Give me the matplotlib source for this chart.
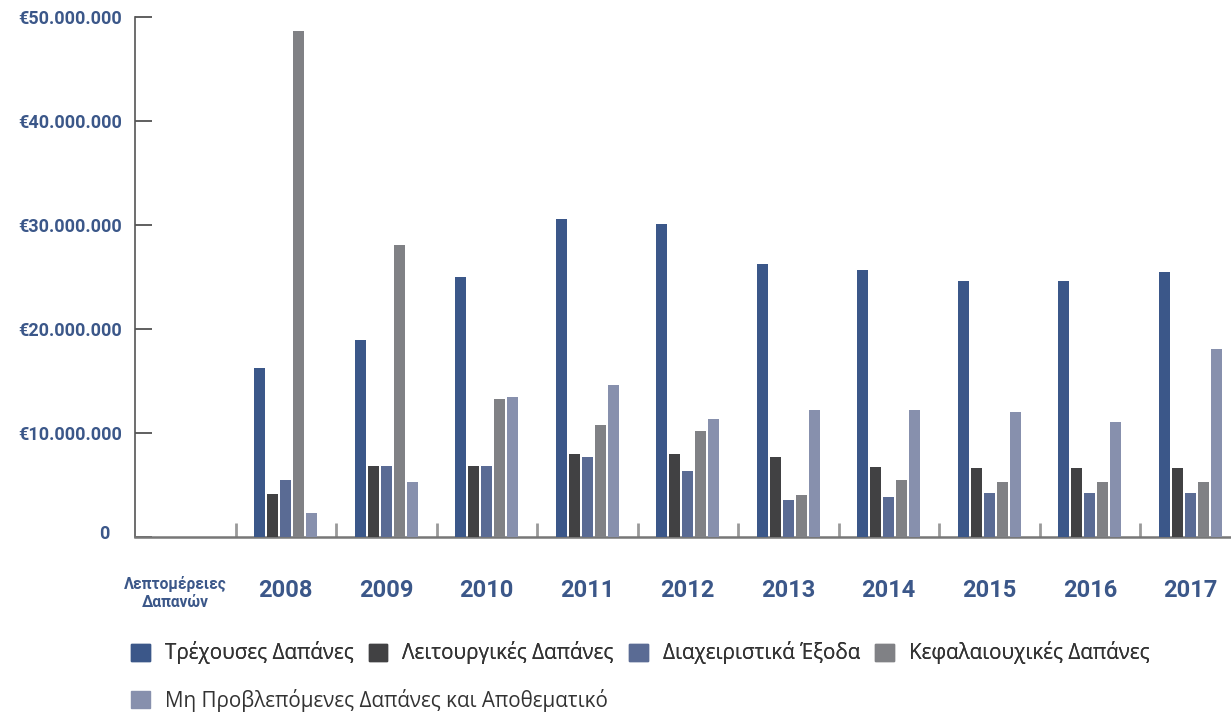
import numpy as np
import matplotlib
matplotlib.use("Agg")
import matplotlib.pyplot as plt
from matplotlib.patches import Patch
import matplotlib.transforms as mtransforms

# data (euros)
first_label = "Λεπτομέρειες\nΔαπανών"
years = ["2008", "2009", "2010", "2011", "2012", "2013", "2014", "2015", "2016", "2017"]

series_names = ["Τρέχουσες Δαπάνες", "Λειτουργικές Δαπάνες", "Διαχειριστικά Έξοδα",
                "Κεφαλαιουχικές Δαπάνες", "Μη Προβλεπόμενες Δαπάνες και Αποθεματικό"]
trexouses = [16.25e6, 18.9e6, 25.0e6, 30.6e6, 30.1e6, 26.25e6, 25.7e6, 24.6e6, 24.6e6, 25.5e6]
leitourgikes = [4.1e6, 6.8e6, 6.8e6, 8.0e6, 8.0e6, 7.7e6, 6.7e6, 6.6e6, 6.6e6, 6.6e6]
diaxeiristika = [5.5e6, 6.8e6, 6.8e6, 7.7e6, 6.3e6, 3.6e6, 3.85e6, 4.2e6, 4.2e6, 4.2e6]
kefalaiouxikes = [48.7e6, 28.1e6, 13.3e6, 10.8e6, 10.2e6, 4.0e6, 5.5e6, 5.3e6, 5.3e6, 5.3e6]
mh_provlepomenes = [2.3e6, 5.3e6, 13.5e6, 14.6e6, 11.35e6, 12.2e6, 12.2e6, 12.0e6, 11.1e6, 18.1e6]

colors = ["#3b5789", "#414143", "#5a6b94", "#808185", "#8790ad"]
blue = "#3b5789"

fig = plt.figure(figsize=(12.31, 7.15), dpi=100)
ax = fig.add_axes([135/1231, (715-537)/715, (1231-135)/1231, 520/715])

x = np.arange(1, len(years) + 1)
all_series = [trexouses, leitourgikes, diaxeiristika, kefalaiouxikes, mh_provlepomenes]
bw = 0.11
step = 0.13
for i, (vals, c) in enumerate(zip(all_series, colors)):
    ax.bar(x + (i - 2) * step, vals, width=bw, color=c, zorder=3)

ax.set_xlim(-0.5, (1231-135)/100.5 - 0.5)
ax.set_ylim(0, 50e6)

# y axis
yt = [0, 10e6, 20e6, 30e6, 40e6, 50e6]
ax.set_yticks(yt)
ax.set_yticklabels(["0"] + ["€{:,}".format(int(v)).replace(",", ".") for v in yt[1:]],
                   fontsize=13, fontweight="bold", color=blue, family="Roboto")
ax.tick_params(axis="y", direction="in", length=12.5, width=1.2, color="#444", pad=9.5)
offset = mtransforms.ScaledTranslation(-12/100, 5/100, fig.dpi_scale_trans)
lab0 = ax.get_yticklabels()[0]
lab0.set_transform(lab0.get_transform() + offset)

# x axis: boundaries as major ticks, labels as minor ticks
ax.set_xticks(np.arange(0.5, len(years) + 0.5, 1.0))
ax.set_xticklabels([])
ax.tick_params(axis="x", which="major", direction="in", length=10, width=2, color="#999")
ax.set_xticks(np.arange(0, len(years) + 1), minor=True)
ax.set_xticklabels([first_label] + years, minor=True)
ax.tick_params(axis="x", which="minor", length=0, pad=30)
for i, t in enumerate(ax.get_xticklabels(minor=True)):
    t.set_color(blue)
    t.set_family("Roboto")
    t.set_fontweight("bold")
    if i == 0:
        t.set_fontsize(11.2)
        t.set_linespacing(1.3)
        t.set_transform(t.get_transform() + mtransforms.ScaledTranslation(-10/100, 3/100, fig.dpi_scale_trans))
    else:
        t.set_fontsize(17)

for s in ["top", "right"]:
    ax.spines[s].set_visible(False)
ax.spines["left"].set_color("#555")
ax.spines["left"].set_linewidth(1.2)
ax.spines["bottom"].set_color("#777")
ax.spines["bottom"].set_linewidth(1.8)

# legend, two rows
handles = [Patch(color=c) for c in colors]
legend_kw = dict(loc="center left", frameon=False,
                 prop={"family": "Open Sans", "size": 14.9}, labelcolor="#333",
                 handlelength=0.9, handleheight=0.9, handletextpad=0.72,
                 columnspacing=0.74, borderaxespad=0)
leg1 = fig.legend(handles[:4], series_names[:4], ncol=4,
                  bbox_to_anchor=(123/1231, 1 - 653/715), **legend_kw)
leg2 = fig.legend(handles[4:], series_names[4:],
                  bbox_to_anchor=(123/1231, 1 - 700/715), **legend_kw)
fig.add_artist(leg1)

fig.savefig("out.png", dpi=100)
